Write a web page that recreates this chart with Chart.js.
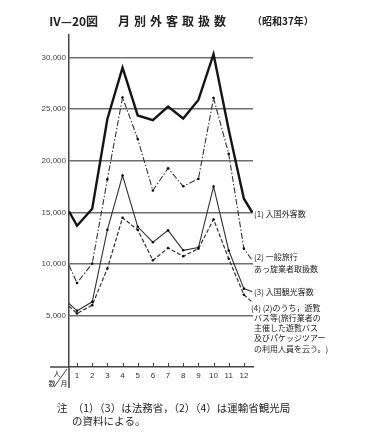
<!DOCTYPE html>
<html>
<head>
<meta charset="utf-8">
<script src="https://cdn.jsdelivr.net/npm/chart.js@4/dist/chart.umd.min.js"></script>
<style>
  html, body { margin: 0; padding: 0; background: #fff; }
  canvas { display: block; }
</style>
</head>
<body>
<canvas id="monthlyChart" width="378" height="444"></canvas>
<script>
// 月の位置 (先頭は縦軸上の始点, 末尾は注記への引出し点)
const monthPos = [0.47, 1, 2, 3, 4, 5, 6, 7, 8, 9, 10, 11, 12, 12.55];
const monthTicks = [1, 2, 3, 4, 5, 6, 7, 8, 9, 10, 11, 12];
const yTicks = [5000, 10000, 15000, 20000, 25000, 30000];

// (1) 入国外客数
const arrivals = [15100, 13700, 15350, 24050, 29040, 24400, 23950, 25250, 24100, 25900, 30340, 23000, 16320, 15000];
// (2) 一般旅行あっ旋業者取扱数
const agencyHandled = [9870, 8150, 10030, 18200, 26140, 22120, 17120, 19270, 17530, 18250, 26080, 20670, 11480, 10350];
// (3) 入国観光客数
const touristArrivals = [6160, 5450, 6320, 13300, 18570, 13600, 12100, 13250, 11320, 11580, 17500, 11300, 7600, 7300];
// (4) 遊覧バス等の利用人員
const busTourUsers = [5900, 5190, 6000, 9550, 14480, 13300, 10350, 11540, 10740, 11480, 14310, 10500, 7000, 6300];

const jp = '"Noto Sans CJK JP", "Noto Sans", sans-serif';

function toPoints(values) {
    return monthPos.map((x, i) => ({ x: x, y: values[i] }));
}

// 始点と終点には点を打たない
function dotRadius(ctx) {
    const last = monthPos.length - 1;
    return (ctx.dataIndex === 0 || ctx.dataIndex === last) ? 0 : 1.3;
}

// 表題・注記・軸の延長などを描く
const decorPlugin = {
    id: 'decor',
    afterDraw(chart) {
        const ctx = chart.ctx;
        const area = chart.chartArea;
        const xs = chart.scales.x;
        ctx.save();
        ctx.fillStyle = '#222';
        ctx.strokeStyle = '#444';

        // 表題
        ctx.textBaseline = 'middle';
        ctx.font = 'bold 12px ' + jp;
        ctx.fillText('Ⅳ—20図', 49, 21);
        const titleChars = ['月', '別', '外', '客', '取', '扱', '数'];
        titleChars.forEach((c, i) => ctx.fillText(c, 118 + i * 16, 21));
        ctx.font = 'bold 10px ' + jp;
        ctx.fillText('（昭和37年）', 252, 21);

        // 軸の延長
        ctx.lineWidth = 1.5;
        ctx.beginPath();
        ctx.moveTo(area.left, area.bottom);
        ctx.lineTo(area.left, area.bottom + 21);
        ctx.moveTo(50, area.bottom);
        ctx.lineTo(area.left, area.bottom);
        ctx.stroke();

        // 月の目盛 (内向き)
        ctx.lineWidth = 1;
        ctx.beginPath();
        monthTicks.forEach(m => {
            const px = Math.round(xs.getPixelForValue(m)) + 0.5;
            ctx.moveTo(px, area.bottom);
            ctx.lineTo(px, area.bottom - 4);
        });
        ctx.stroke();

        // 隅の見出し
        ctx.font = '7px ' + jp;
        ctx.textAlign = 'center';
        ctx.fillText('人', 57, area.bottom + 6);
        ctx.fillText('数', 52, area.bottom + 16);
        ctx.fillText('月', 64, area.bottom + 16);
        ctx.beginPath();
        ctx.moveTo(54, area.bottom + 20);
        ctx.lineTo(67, area.bottom + 2);
        ctx.stroke();

        // 系列の注記
        ctx.textAlign = 'left';
        ctx.font = '8px ' + jp;
        const x0 = area.right + 1;
        ctx.fillText('(1) 入国外客数', x0, 214);
        ctx.fillText('(2) 一般旅行', x0, 257);
        ctx.fillText('あっ旋業者取扱数', x0, 269);
        ctx.fillText('(3) 入国観光客数', x0, 292);
        ctx.fillText('(4) (2)のうち，遊覧', x0 - 3, 308);
        ctx.fillText('バス等(旅行業者の', x0, 318);
        ctx.fillText('主催した遊覧バス', x0, 328);
        ctx.fillText('及びパケッジツアー', x0, 338);
        ctx.fillText('の利用人員を云う。)', x0, 349);

        // 資料の注
        ctx.font = '10.5px ' + jp;
        ctx.fillText('注　（1）（3）は法務省，（2）（4）は運輸省観光局', 57, 408);
        ctx.fillText('の資料による。', 72, 421);
        ctx.restore();
    }
};

const chartCtx = document.getElementById('monthlyChart').getContext('2d');

new Chart(chartCtx, {
    type: 'line',
    data: {
        datasets: [
            {
                label: '(1) 入国外客数',
                data: toPoints(arrivals),
                borderColor: '#151515',
                borderWidth: 2.4,
                pointRadius: 0,
                tension: 0,
            },
            {
                label: '(2) 一般旅行あっ旋業者取扱数',
                data: toPoints(agencyHandled),
                borderColor: '#333',
                borderWidth: 1.1,
                borderDash: [6, 2, 1.5, 2],
                pointRadius: dotRadius,
                pointBackgroundColor: '#111',
                pointBorderWidth: 0,
                tension: 0,
            },
            {
                label: '(3) 入国観光客数',
                data: toPoints(touristArrivals),
                borderColor: '#333',
                borderWidth: 1.1,
                pointRadius: dotRadius,
                pointBackgroundColor: '#111',
                pointBorderWidth: 0,
                tension: 0,
            },
            {
                label: '(4) 遊覧バス等の利用人員',
                data: toPoints(busTourUsers),
                borderColor: '#333',
                borderWidth: 1.2,
                borderDash: [4, 2],
                pointRadius: dotRadius,
                pointBackgroundColor: '#111',
                pointBorderWidth: 0,
                tension: 0,
            },
        ],
    },
    options: {
        responsive: false,
        animation: false,
        layout: {
            padding: { left: 0, right: 125, top: 35, bottom: 57 },
        },
        plugins: {
            legend: { display: false },
            title: { display: false },
            tooltip: { enabled: false },
        },
        scales: {
            x: {
                type: 'linear',
                min: 0.47,
                max: 12.6,
                afterBuildTicks(scale) {
                    scale.ticks = monthTicks.map(v => ({ value: v }));
                },
                afterFit(scale) {
                    scale.height = 20;
                },
                grid: { display: false, drawTicks: false },
                border: { display: true, color: '#444', width: 1.5 },
                ticks: {
                    padding: 4,
                    color: '#333',
                    font: { family: 'Liberation Sans', size: 8 },
                    maxRotation: 0,
                    callback: v => String(v),
                },
            },
            y: {
                min: 0,
                max: 32200,
                afterBuildTicks(scale) {
                    scale.ticks = yTicks.map(v => ({ value: v }));
                },
                afterFit(scale) {
                    scale.width = 69;
                },
                grid: {
                    color: '#6e6e6e',
                    lineWidth: 1.6,
                    drawTicks: false,
                },
                border: { display: true, color: '#444', width: 1.5 },
                ticks: {
                    padding: 3,
                    color: '#444',
                    font: { family: 'Liberation Sans', size: 8 },
                    callback: v => v.toLocaleString('en-US'),
                },
            },
        },
    },
    plugins: [decorPlugin],
});
</script>
</body>
</html>
